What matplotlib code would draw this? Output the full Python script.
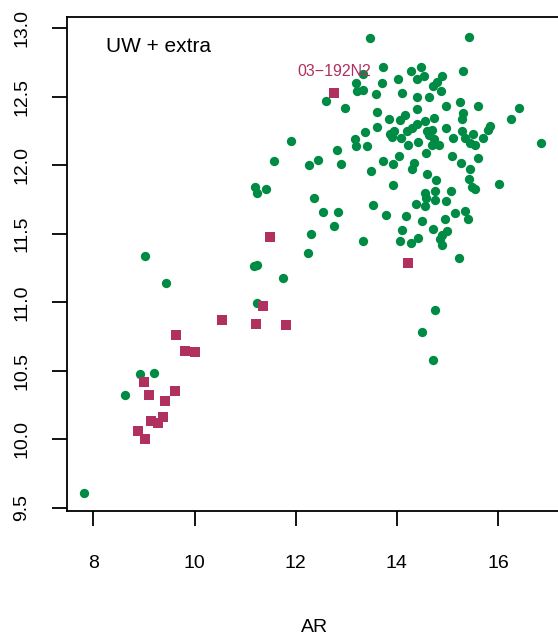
import matplotlib
matplotlib.use("Agg")
import matplotlib.pyplot as plt

plt.rcParams['font.family'] = ['Liberation Sans', 'DejaVu Sans']

# UW samples (green dots)
uw_ar = [13.47, 15.42, 13.73, 14.28, 14.48, 15.30, 14.39, 14.54, 14.02, 13.70,
         13.19, 13.32, 13.21, 13.32, 13.58, 14.10, 14.40, 14.64, 14.87, 14.72,
         14.80, 14.90, 12.60, 12.97, 13.60, 13.84, 14.07, 14.16, 14.40, 14.74,
         14.96, 15.25, 15.30, 15.29, 15.61, 16.42, 16.26, 11.91, 13.61, 13.36,
         13.18, 13.20, 13.40, 12.82, 12.45, 12.26, 12.89, 13.86, 13.94, 14.20,
         14.30, 14.39, 14.56, 14.09, 14.21, 14.42, 14.59, 14.69, 14.64, 14.74,
         14.69, 14.84, 14.57, 14.97, 15.11, 15.29, 15.35, 15.50, 15.44, 15.55,
         15.71, 15.80, 15.83, 16.85, 15.09, 15.60, 15.27, 14.04, 13.93, 13.73,
         13.49, 14.33, 14.30, 14.60, 14.77, 15.45, 15.42, 15.49, 15.55, 16.02,
         13.92, 12.36, 12.53, 12.84, 13.52, 12.75, 12.30, 12.24, 13.32, 13.79,
         14.17, 14.38, 14.56, 14.58, 14.75, 14.75, 14.56, 14.96, 15.06, 14.50,
         14.94, 15.15, 15.35, 15.41, 14.10, 14.06, 14.27, 14.42, 14.72, 14.98,
         14.90, 14.86, 14.90, 15.23, 11.57, 11.20, 11.24, 11.41, 11.50, 9.02,
         9.44, 11.18, 11.24, 11.74, 11.24, 8.92, 9.19, 8.63, 7.82, 14.75,
         14.50, 14.71, 13.90]
uw_val = [12.93, 12.94, 12.72, 12.69, 12.72, 12.69, 12.63, 12.65, 12.63, 12.60,
          12.60, 12.67, 12.545, 12.55, 12.52, 12.525, 12.50, 12.50, 12.54, 12.58,
          12.61, 12.65, 12.47, 12.42, 12.39, 12.34, 12.33, 12.37, 12.41, 12.345,
          12.43, 12.46, 12.38, 12.34, 12.43, 12.42, 12.34, 12.18, 12.28, 12.24,
          12.19, 12.14, 12.14, 12.11, 12.04, 12.00, 12.01, 12.23, 12.25, 12.25,
          12.27, 12.30, 12.32, 12.20, 12.15, 12.17, 12.25, 12.26, 12.22, 12.19,
          12.15, 12.15, 12.09, 12.27, 12.20, 12.25, 12.20, 12.23, 12.16, 12.15,
          12.20, 12.26, 12.29, 12.16, 12.07, 12.05, 12.015, 12.07, 12.01, 12.03,
          11.96, 12.02, 11.97, 11.94, 11.89, 11.97, 11.90, 11.84, 11.825, 11.86,
          11.855, 11.76, 11.66, 11.66, 11.71, 11.555, 11.50, 11.36, 11.445, 11.635,
          11.63, 11.72, 11.80, 11.76, 11.815, 11.75, 11.70, 11.74, 11.81, 11.59,
          11.61, 11.65, 11.67, 11.61, 11.53, 11.45, 11.43, 11.47, 11.535, 11.52,
          11.49, 11.46, 11.42, 11.32, 12.03, 11.84, 11.80, 11.825, 11.48, 11.34,
          11.14, 11.265, 11.27, 11.175, 10.995, 10.475, 10.48, 10.32, 9.61, 10.94,
          10.78, 10.58, 12.21]

# extra samples (maroon squares)
extra_ar = [11.49, 11.35, 10.54, 11.22, 11.81, 9.63, 9.81, 10.00, 9.00, 9.11,
            9.61, 9.42, 9.14, 9.27, 9.37, 8.88, 9.02, 14.22, 12.76]
extra_val = [11.48, 10.97, 10.87, 10.84, 10.835, 10.76, 10.645, 10.64, 10.42, 10.32,
             10.35, 10.28, 10.135, 10.12, 10.16, 10.06, 10.005, 11.29, 12.53]

label_name = "03\u2212192N2"
label_idx = 18

green = "#008B45"
maroon = "#B03060"

fig = plt.figure(figsize=(5.58, 6.39), dpi=100)
ax = fig.add_axes([0.1195, 0.2008, 0.8875, 0.7726])

ax.scatter(uw_ar, uw_val, s=45, c=green, marker="o", linewidths=0)
ax.scatter(extra_ar, extra_val, s=52, c=maroon, marker="s", linewidths=0)

ax.annotate(label_name, (extra_ar[label_idx], extra_val[label_idx]),
            xytext=(0, 15), textcoords="offset points", ha="center", va="center",
            color=maroon, fontsize=11.5)

ax.text(0.08, 0.94, "UW + extra", transform=ax.transAxes, fontsize=15,
        ha="left", va="center")

ax.set_xlim(7.474, 17.26)
ax.set_ylim(9.478, 13.083)
ax.set_xticks([8, 10, 12, 14, 16])
ax.set_yticks([9.5, 10.0, 10.5, 11.0, 11.5, 12.0, 12.5, 13.0])
ax.set_yticklabels(["9.5", "10.0", "10.5", "11.0", "11.5", "12.0", "12.5", "13.0"],
                   rotation=90, va="center")

for sp in ax.spines.values():
    sp.set_linewidth(1.3)
ax.tick_params(axis="both", direction="out", length=11, width=1.3, labelsize=14)
ax.tick_params(axis="x", pad=21)
ax.tick_params(axis="y", pad=15)

ax.set_xlabel("AR", fontsize=14, labelpad=34)

plt.savefig("out.png", dpi=100)
